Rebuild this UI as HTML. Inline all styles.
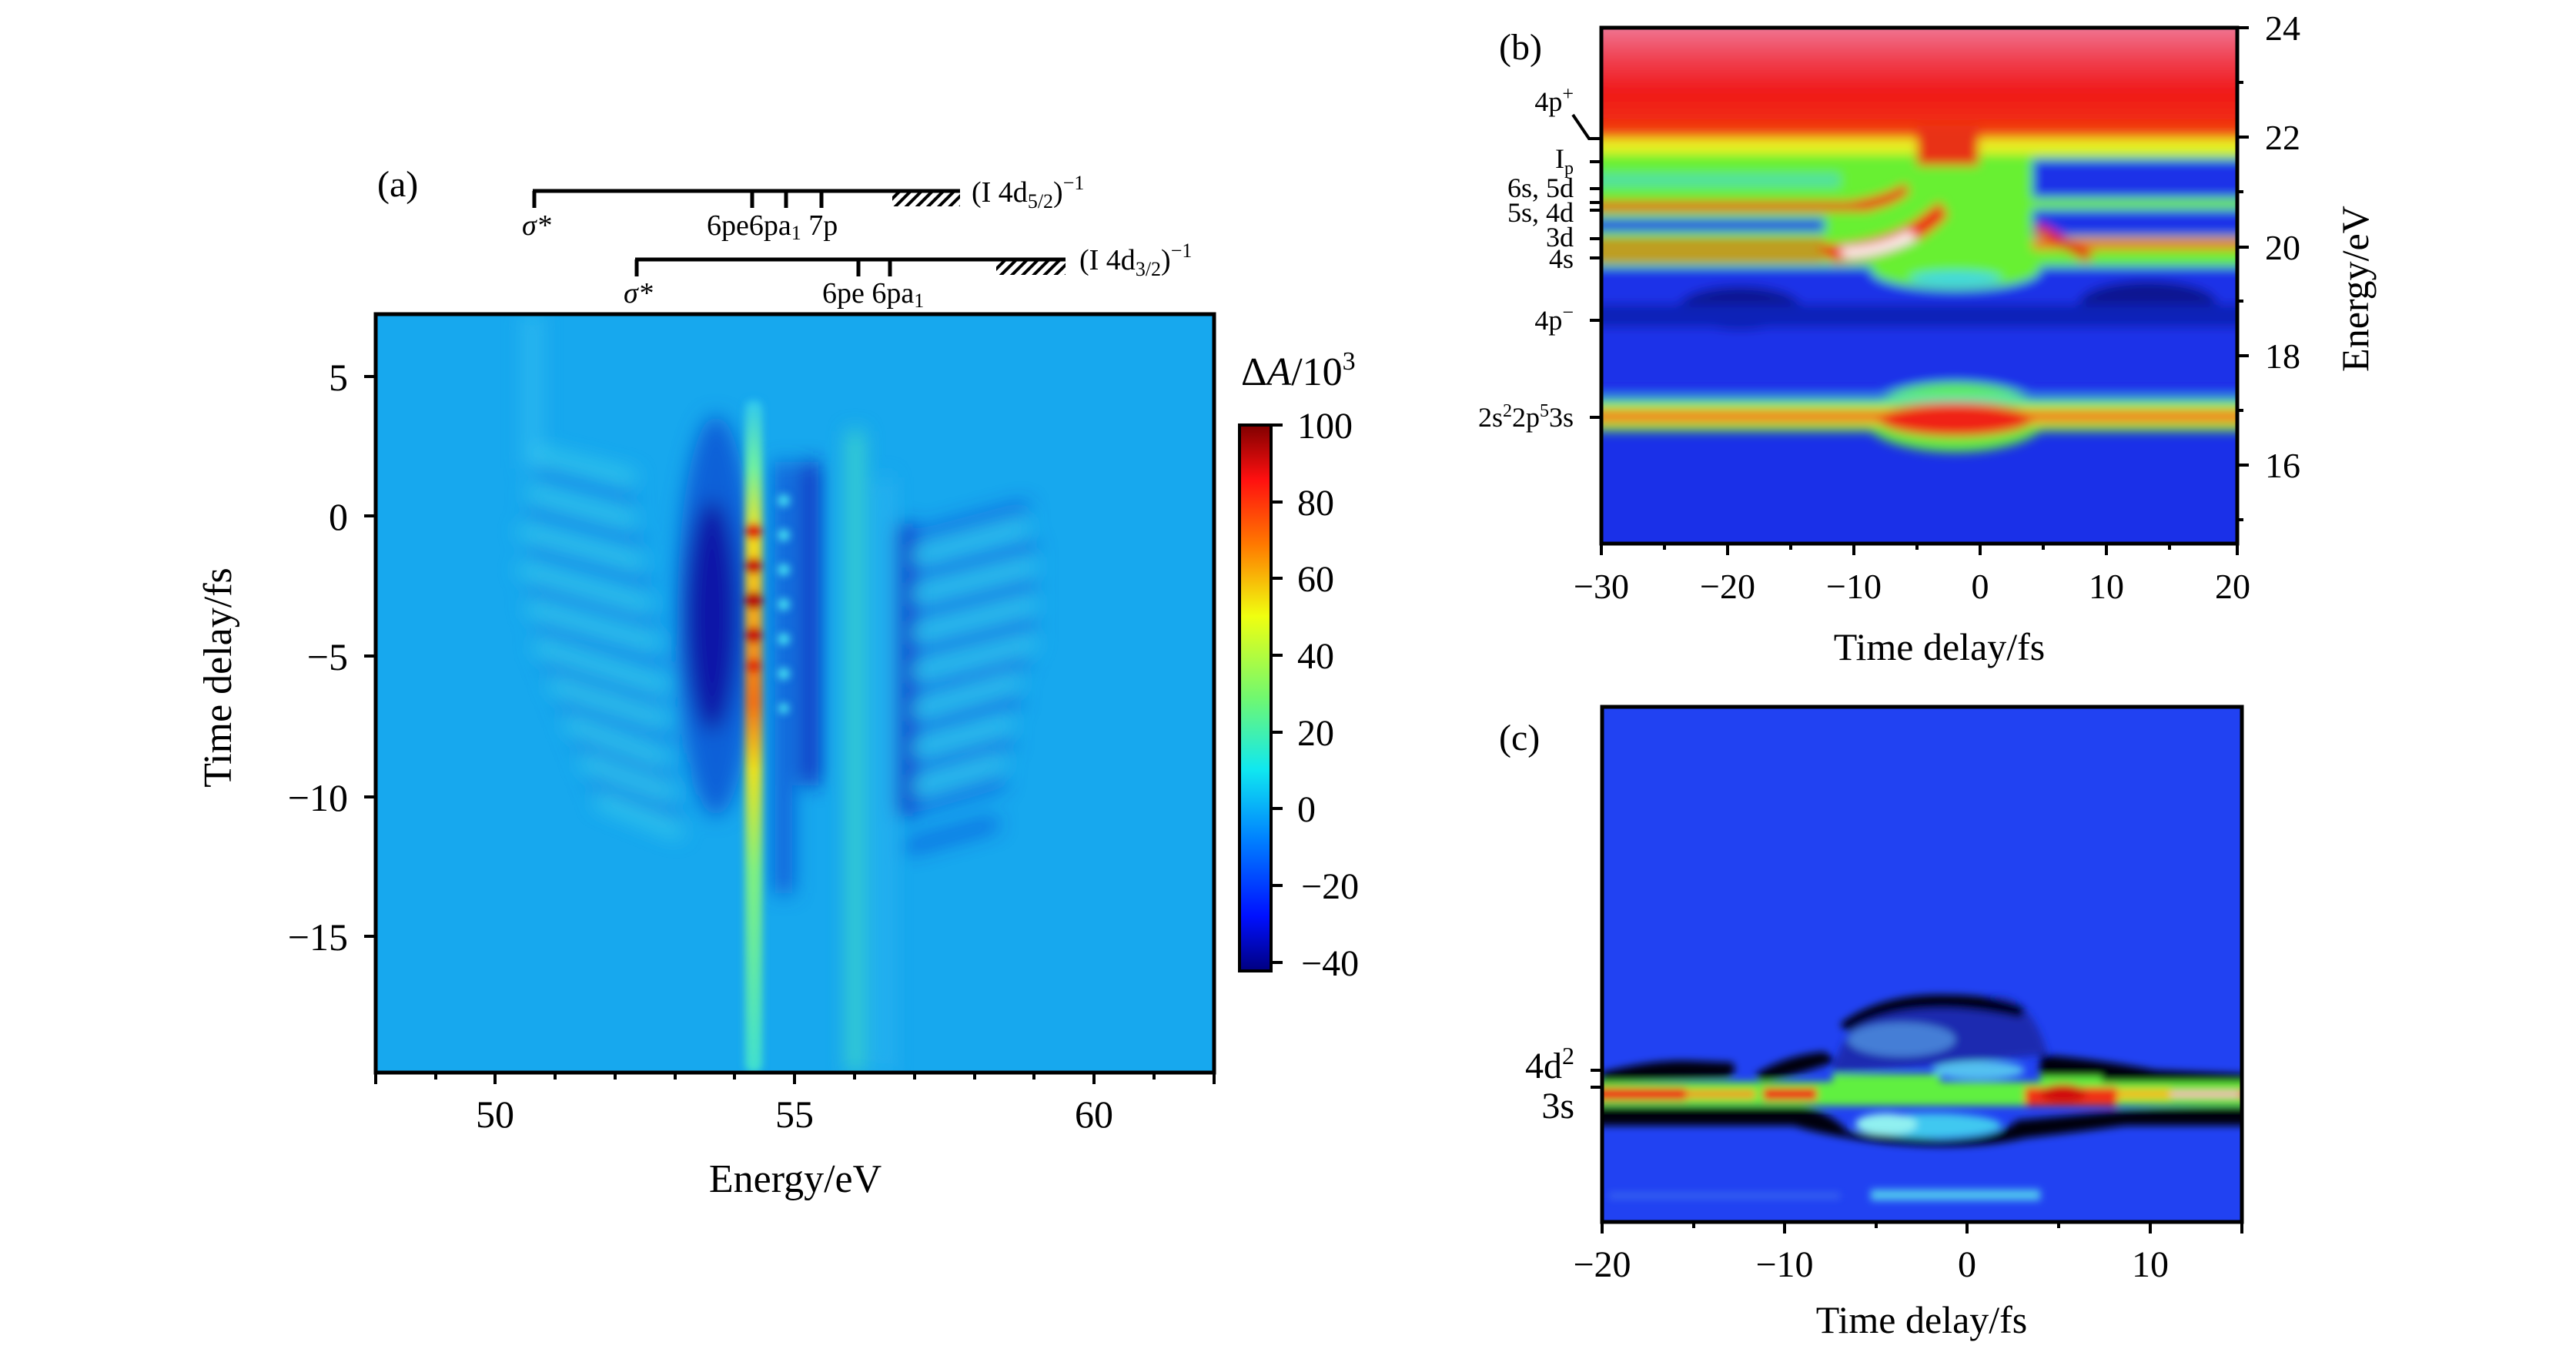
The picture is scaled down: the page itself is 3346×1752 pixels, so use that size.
<!DOCTYPE html>
<html><head><meta charset="utf-8"><style>
html,body{margin:0;padding:0;background:#fff}
svg{display:block}
text{font-family:"Liberation Serif",serif;fill:#000}
</style></head><body>
<svg width="3346" height="1752" viewBox="0 0 3346 1752" xmlns="http://www.w3.org/2000/svg">
<defs>
<filter id="b5" x="-20%" y="-20%" width="140%" height="140%"><feGaussianBlur stdDeviation="5"/></filter>
<filter id="b7" x="-20%" y="-20%" width="140%" height="140%"><feGaussianBlur stdDeviation="7"/></filter>
<filter id="b9" x="-30%" y="-30%" width="160%" height="160%"><feGaussianBlur stdDeviation="13"/></filter>
<filter id="b3" x="-20%" y="-20%" width="140%" height="140%"><feGaussianBlur stdDeviation="3"/></filter>
<clipPath id="ca"><rect x="488" y="408" width="1089" height="985"/></clipPath>
<clipPath id="cb"><rect x="2080" y="36" width="826" height="670"/></clipPath>
<clipPath id="cc"><rect x="2081" y="918" width="831" height="669"/></clipPath>
<linearGradient id="jet" x1="0" y1="0" x2="0" y2="1">
<stop offset="0" stop-color="#800000"/><stop offset="0.1" stop-color="#ff1010"/>
<stop offset="0.22" stop-color="#ff7a00"/><stop offset="0.35" stop-color="#f0ff10"/>
<stop offset="0.5" stop-color="#70f870"/><stop offset="0.63" stop-color="#10e8f0"/>
<stop offset="0.76" stop-color="#0080ff"/><stop offset="0.9" stop-color="#0010ff"/>
<stop offset="1" stop-color="#000080"/></linearGradient>
<linearGradient id="mainl" x1="0" y1="0" x2="0" y2="1">
<stop offset="0" stop-color="#30c8f0"/><stop offset="0.1" stop-color="#70f0a0"/>
<stop offset="0.2" stop-color="#f0e020"/><stop offset="0.45" stop-color="#f07018"/>
<stop offset="0.55" stop-color="#e8e020"/><stop offset="0.7" stop-color="#80f080"/>
<stop offset="1" stop-color="#40e0d0"/></linearGradient>
<linearGradient id="btop" x1="0" y1="0" x2="0" y2="1">
<stop offset="0" stop-color="#f080a0"/><stop offset="0.3" stop-color="#f04050"/>
<stop offset="0.55" stop-color="#f01818"/><stop offset="0.8" stop-color="#f03010"/>
<stop offset="1" stop-color="#f09018"/></linearGradient>
<pattern id="hatch" width="10" height="10" patternUnits="userSpaceOnUse" patternTransform="rotate(45)"><rect width="4" height="10" fill="#000"/></pattern>
</defs>

<!-- ===== Panel (a) ===== -->
<text x="490" y="255" font-size="48">(a)</text>
<g stroke="#000" stroke-width="5" fill="none">
<line x1="692" y1="248" x2="1247" y2="248"/>
<line x1="694" y1="248" x2="694" y2="270"/>
<line x1="977" y1="248" x2="977" y2="270"/><line x1="1021" y1="248" x2="1021" y2="270"/><line x1="1067" y1="248" x2="1067" y2="270"/>
<line x1="825" y1="337" x2="1384" y2="337"/>
<line x1="827" y1="337" x2="827" y2="359"/>
<line x1="1115" y1="337" x2="1115" y2="359"/><line x1="1156" y1="337" x2="1156" y2="359"/>
</g>
<rect x="1159" y="250" width="88" height="18" fill="url(#hatch)"/>
<rect x="1294" y="339" width="90" height="18" fill="url(#hatch)"/>
<g font-size="38">
<text x="678" y="305" font-style="italic">σ*</text>
<text x="918" y="305">6pe6pa<tspan font-size="26" dy="6">1</tspan><tspan dy="-6"> 7p</tspan></text>
<text x="1262" y="262">(I 4d<tspan font-size="26" dy="8">5/2</tspan><tspan dy="-8">)</tspan><tspan font-size="26" dy="-16">−1</tspan></text>
<text x="810" y="393" font-style="italic">σ*</text>
<text x="1068" y="393">6pe 6pa<tspan font-size="26" dy="6">1</tspan></text>
<text x="1402" y="350">(I 4d<tspan font-size="26" dy="8">3/2</tspan><tspan dy="-8">)</tspan><tspan font-size="26" dy="-16">−1</tspan></text>
</g>

<g clip-path="url(#ca)">
<rect x="488" y="408" width="1089" height="985" fill="#17a8ee"/>
<g filter="url(#b9)">
<rect x="680" y="408" width="22" height="200" fill="#3cc4f2" opacity="0.6"/>
<g stroke-width="14" stroke-linecap="round" fill="none" opacity="0.75">
<g stroke="#45dce8">
<line x1="700" y1="590" x2="820" y2="620"/><line x1="690" y1="640" x2="820" y2="675"/>
<line x1="680" y1="690" x2="830" y2="730"/><line x1="680" y1="740" x2="840" y2="785"/>
<line x1="690" y1="790" x2="850" y2="835"/><line x1="700" y1="840" x2="860" y2="890"/>
<line x1="720" y1="890" x2="860" y2="935"/><line x1="740" y1="940" x2="860" y2="985"/>
<line x1="760" y1="990" x2="870" y2="1030"/><line x1="780" y1="1040" x2="880" y2="1080"/>
</g>
<g stroke="#0c6ce0">
<line x1="700" y1="615" x2="820" y2="648"/><line x1="690" y1="665" x2="830" y2="703"/>
<line x1="690" y1="715" x2="840" y2="757"/><line x1="690" y1="765" x2="850" y2="810"/>
<line x1="700" y1="815" x2="860" y2="862"/><line x1="710" y1="865" x2="860" y2="912"/>
<line x1="730" y1="915" x2="870" y2="960"/><line x1="750" y1="965" x2="870" y2="1008"/>
<line x1="770" y1="1015" x2="880" y2="1055"/>
</g>
<g stroke="#0a3ed8">
<line x1="1180" y1="700" x2="1330" y2="660"/><line x1="1180" y1="750" x2="1340" y2="710"/>
<line x1="1180" y1="800" x2="1340" y2="760"/><line x1="1180" y1="850" x2="1340" y2="810"/>
<line x1="1180" y1="900" x2="1330" y2="860"/><line x1="1180" y1="950" x2="1320" y2="910"/>
<line x1="1180" y1="1000" x2="1310" y2="965"/><line x1="1180" y1="1050" x2="1300" y2="1015"/>
<line x1="1180" y1="1100" x2="1290" y2="1070"/>
</g>
<g stroke="#45d8ec">
<line x1="1180" y1="725" x2="1330" y2="685"/><line x1="1180" y1="775" x2="1340" y2="735"/>
<line x1="1180" y1="825" x2="1340" y2="785"/><line x1="1180" y1="875" x2="1340" y2="835"/>
<line x1="1180" y1="925" x2="1320" y2="885"/><line x1="1180" y1="975" x2="1310" y2="940"/>
<line x1="1180" y1="1025" x2="1300" y2="990"/>
</g>
</g>
<ellipse cx="930" cy="800" rx="50" ry="260" fill="#1060d8"/>
<ellipse cx="925" cy="800" rx="34" ry="150" fill="#0a14a8"/>
<rect x="1006" y="600" width="24" height="560" fill="#1058d8"/>
<rect x="1040" y="600" width="24" height="420" fill="#0a28c0"/>
<rect x="1102" y="560" width="18" height="833" fill="#42dcc4"/>
<rect x="1142" y="620" width="14" height="773" fill="#30b8f0"/>
<rect x="1166" y="680" width="20" height="380" fill="#0a30c8"/>
</g>
<g filter="url(#b5)">
<rect x="968" y="520" width="22" height="873" rx="10" fill="url(#mainl)"/>
<circle cx="979" cy="690" r="11" fill="#e02010"/><circle cx="979" cy="735" r="11" fill="#c81008"/>
<circle cx="979" cy="780" r="12" fill="#b80808"/><circle cx="979" cy="825" r="11" fill="#c81008"/>
<circle cx="979" cy="865" r="10" fill="#e03010"/>
<g fill="#40d8f0">
<circle cx="1018" cy="650" r="8"/><circle cx="1018" cy="695" r="8"/><circle cx="1018" cy="740" r="8"/>
<circle cx="1018" cy="785" r="8"/><circle cx="1018" cy="830" r="8"/><circle cx="1018" cy="875" r="8"/>
<circle cx="1018" cy="920" r="7"/>
</g>
</g>
</g>
<rect x="488" y="408" width="1089" height="985" fill="none" stroke="#000" stroke-width="5"/>
<g stroke="#000" stroke-width="4">
<line x1="488" y1="1393" x2="488" y2="1408"/><line x1="566" y1="1393" x2="566" y2="1402"/>
<line x1="643" y1="1393" x2="643" y2="1408"/><line x1="721" y1="1393" x2="721" y2="1402"/>
<line x1="799" y1="1393" x2="799" y2="1402"/><line x1="877" y1="1393" x2="877" y2="1402"/>
<line x1="954" y1="1393" x2="954" y2="1402"/><line x1="1032" y1="1393" x2="1032" y2="1408"/>
<line x1="1110" y1="1393" x2="1110" y2="1402"/><line x1="1188" y1="1393" x2="1188" y2="1402"/>
<line x1="1266" y1="1393" x2="1266" y2="1402"/><line x1="1343" y1="1393" x2="1343" y2="1402"/>
<line x1="1421" y1="1393" x2="1421" y2="1408"/><line x1="1499" y1="1393" x2="1499" y2="1402"/>
<line x1="1577" y1="1393" x2="1577" y2="1408"/>
<line x1="473" y1="489" x2="488" y2="489"/><line x1="473" y1="670" x2="488" y2="670"/>
<line x1="473" y1="852" x2="488" y2="852"/><line x1="473" y1="1035" x2="488" y2="1035"/>
<line x1="473" y1="1216" x2="488" y2="1216"/>
</g>
<g font-size="50" text-anchor="middle">
<text x="643" y="1464">50</text><text x="1032" y="1464">55</text><text x="1421" y="1464">60</text>
<text x="1033" y="1548" font-size="52">Energy/eV</text>
</g>
<g font-size="50" text-anchor="end">
<text x="452" y="507">5</text><text x="452" y="688">0</text>
<text x="452" y="870">−5</text><text x="452" y="1053">−10</text><text x="452" y="1234">−15</text>
</g>
<text transform="translate(300,880) rotate(-90)" font-size="52" text-anchor="middle">Time delay/fs</text>

<text x="1612" y="500" font-size="52"><tspan>Δ</tspan><tspan font-style="italic">A</tspan>/10<tspan font-size="34" dy="-20">3</tspan></text>
<rect x="1610" y="552" width="41" height="709" fill="url(#jet)" stroke="#000" stroke-width="4"/>
<g stroke="#000" stroke-width="4">
<line x1="1651" y1="552" x2="1666" y2="552"/><line x1="1651" y1="652" x2="1666" y2="652"/>
<line x1="1651" y1="751" x2="1666" y2="751"/><line x1="1651" y1="851" x2="1666" y2="851"/>
<line x1="1651" y1="951" x2="1666" y2="951"/><line x1="1651" y1="1050" x2="1666" y2="1050"/>
<line x1="1651" y1="1150" x2="1666" y2="1150"/><line x1="1651" y1="1250" x2="1666" y2="1250"/>
</g>
<g font-size="48">
<text x="1685" y="569">100</text><text x="1685" y="669">80</text><text x="1685" y="768">60</text>
<text x="1685" y="868">40</text><text x="1685" y="968">20</text><text x="1685" y="1067">0</text>
<text x="1690" y="1167">−20</text><text x="1690" y="1267">−40</text>
</g>

<!-- ===== Panel (b) ===== -->
<text x="1947" y="77" font-size="48">(b)</text>
<g clip-path="url(#cb)">
<rect x="2080" y="36" width="826" height="670" fill="#1a30e8"/>
<g filter="url(#b7)">
<rect x="2070" y="26" width="850" height="170" fill="url(#btop)"/>
<rect x="2070" y="180" width="850" height="25" fill="#e8f020"/>
<rect x="2070" y="200" width="850" height="146" fill="#68f030"/>
<rect x="2070" y="225" width="320" height="18" fill="#50e0a0"/>
<rect x="2640" y="207" width="280" height="50" fill="#1a30e8"/>
<rect x="2640" y="272" width="280" height="35" fill="#1a30e8"/>
<rect x="2640" y="257" width="280" height="14" fill="#70f040"/>
<rect x="2640" y="310" width="280" height="14" fill="#f07020"/>
<rect x="2070" y="262" width="360" height="12" fill="#f01818"/>
<path d="M2400,262 Q2450,255 2475,238 L2480,250 Q2450,275 2400,274 Z" fill="#f01818"/>
<rect x="2070" y="284" width="300" height="17" fill="#1a30e8"/>
<rect x="2070" y="312" width="300" height="10" fill="#e02010"/>
<rect x="2070" y="328" width="300" height="10" fill="#e02010"/>
<path d="M2360,318 Q2440,318 2490,285 L2520,262 L2530,280 Q2480,335 2380,340 Z" fill="#f01818"/>
<path d="M2390,322 Q2440,322 2480,300 L2490,310 Q2440,334 2395,334 Z" fill="#ffffff"/>
<rect x="2490" y="165" width="80" height="50" fill="#e83018"/>
<path d="M2650,290 L2720,330 L2710,340 L2640,300 Z" fill="#e02010"/>
<rect x="2070" y="346" width="850" height="160" fill="#1a30e8"/>
<ellipse cx="2540" cy="350" rx="110" ry="26" fill="#68f030"/>
<ellipse cx="2540" cy="362" rx="60" ry="10" fill="#40d8e0"/>
<ellipse cx="2260" cy="400" rx="80" ry="28" fill="#0c1590"/>
<ellipse cx="2790" cy="395" rx="90" ry="30" fill="#0c1590"/>
<rect x="2070" y="395" width="850" height="30" fill="#1020b8"/>
<rect x="2070" y="520" width="850" height="40" fill="#60f040"/>
<ellipse cx="2540" cy="542" rx="120" ry="45" fill="#60f040"/>
<rect x="2070" y="530" width="850" height="22" fill="#f0d020"/>
<rect x="2070" y="536" width="850" height="10" fill="#f03020"/>
<ellipse cx="2540" cy="545" rx="100" ry="22" fill="#f02018"/>
<rect x="2070" y="515" width="850" height="6" fill="#50d8e0"/>
</g>
</g>
<rect x="2080" y="36" width="826" height="670" fill="none" stroke="#000" stroke-width="5"/>
<g stroke="#000" stroke-width="4">
<line x1="2080" y1="706" x2="2080" y2="721"/><line x1="2162" y1="706" x2="2162" y2="714"/>
<line x1="2244" y1="706" x2="2244" y2="721"/><line x1="2326" y1="706" x2="2326" y2="714"/>
<line x1="2408" y1="706" x2="2408" y2="721"/><line x1="2490" y1="706" x2="2490" y2="714"/>
<line x1="2572" y1="706" x2="2572" y2="721"/><line x1="2654" y1="706" x2="2654" y2="714"/>
<line x1="2736" y1="706" x2="2736" y2="721"/><line x1="2818" y1="706" x2="2818" y2="714"/>
<line x1="2906" y1="706" x2="2906" y2="721"/>
<line x1="2906" y1="36" x2="2921" y2="36"/><line x1="2906" y1="107" x2="2914" y2="107"/>
<line x1="2906" y1="178" x2="2921" y2="178"/><line x1="2906" y1="249" x2="2914" y2="249"/>
<line x1="2906" y1="321" x2="2921" y2="321"/><line x1="2906" y1="391" x2="2914" y2="391"/>
<line x1="2906" y1="462" x2="2921" y2="462"/><line x1="2906" y1="533" x2="2914" y2="533"/>
<line x1="2906" y1="604" x2="2921" y2="604"/><line x1="2906" y1="675" x2="2914" y2="675"/>
<polyline points="2043,149 2064,180 2080,180" fill="none"/>
<line x1="2065" y1="210" x2="2080" y2="210"/><line x1="2065" y1="245" x2="2080" y2="245"/>
<line x1="2065" y1="263" x2="2080" y2="263"/><line x1="2065" y1="273" x2="2080" y2="273"/>
<line x1="2065" y1="310" x2="2080" y2="310"/><line x1="2065" y1="335" x2="2080" y2="335"/>
<line x1="2065" y1="416" x2="2080" y2="416"/><line x1="2065" y1="542" x2="2080" y2="542"/>
</g>
<g font-size="46" text-anchor="middle">
<text x="2080" y="777">−30</text><text x="2244" y="777">−20</text><text x="2408" y="777">−10</text>
<text x="2572" y="777">0</text><text x="2736" y="777">10</text><text x="2900" y="777">20</text>
<text x="2519" y="857" font-size="50">Time delay/fs</text>
</g>
<g font-size="46">
<text x="2942" y="52">24</text><text x="2942" y="194">22</text><text x="2942" y="337">20</text>
<text x="2942" y="478">18</text><text x="2942" y="620">16</text>
</g>
<text transform="translate(3076,375) rotate(-90)" font-size="50" text-anchor="middle">Energy/eV</text>
<g font-size="36" text-anchor="end">
<text x="2044" y="144">4p<tspan font-size="26" dy="-14">+</tspan></text>
<text x="2044" y="218">I<tspan font-size="24" dy="8">p</tspan></text>
<text x="2044" y="256">6s, 5d</text>
<text x="2044" y="288">5s, 4d</text>
<text x="2044" y="320">3d</text>
<text x="2044" y="348">4s</text>
<text x="2044" y="428">4p<tspan font-size="26" dy="-14">−</tspan></text>
<text x="2044" y="554">2s<tspan font-size="24" dy="-13">2</tspan><tspan dy="13">2p</tspan><tspan font-size="24" dy="-13">5</tspan><tspan dy="13">3s</tspan></text>
</g>

<!-- ===== Panel (c) ===== -->
<text x="1947" y="974" font-size="48">(c)</text>
<g clip-path="url(#cc)">
<rect x="2081" y="918" width="831" height="669" fill="#2142f2"/>
<g filter="url(#b5)">
<path d="M2380,1395 Q2400,1300 2500,1295 L2600,1295 Q2640,1300 2660,1370 L2380,1395 Z" fill="#1a2ab0"/>
<path d="M2390,1330 Q2440,1292 2520,1292 Q2600,1292 2630,1310 L2625,1322 Q2560,1308 2510,1310 Q2440,1312 2400,1340 Z" fill="#000010"/>
<ellipse cx="2470" cy="1350" rx="70" ry="22" fill="#60b8f0" opacity="0.6"/>
<ellipse cx="2570" cy="1390" rx="60" ry="12" fill="#60e0f0" opacity="0.8"/>
<path d="M2080,1393 Q2150,1375 2200,1378 L2250,1380 Q2260,1395 2240,1400 L2080,1405 Z" fill="#000010"/>
<path d="M2280,1395 Q2320,1370 2370,1366 L2385,1378 Q2340,1395 2290,1405 Z" fill="#000010"/>
<path d="M2650,1370 Q2720,1375 2800,1390 L2920,1395 L2920,1410 L2650,1405 Z" fill="#000010"/>
<rect x="2070" y="1405" width="860" height="31" fill="#60f040"/>
<rect x="2380" y="1395" width="140" height="15" fill="#60f040"/>
<rect x="2650" y="1398" width="80" height="12" fill="#60f040"/>
<rect x="2070" y="1413" width="120" height="16" fill="#f01818"/>
<rect x="2190" y="1415" width="90" height="12" fill="#f0a020"/>
<rect x="2290" y="1413" width="70" height="16" fill="#f01818"/>
<rect x="2630" y="1412" width="120" height="24" fill="#f03018"/>
<ellipse cx="2680" cy="1420" rx="30" ry="12" fill="#d00808"/>
<rect x="2750" y="1414" width="70" height="14" fill="#f0c020"/>
<rect x="2820" y="1416" width="100" height="10" fill="#f02010"/>
<rect x="2820" y="1419" width="90" height="4" fill="#ffffff"/>
<path d="M2070,1437 L2340,1437 Q2380,1445 2400,1470 L2520,1480 Q2600,1478 2620,1455 L2730,1445 Q2800,1438 2930,1437 L2930,1462 L2760,1462 Q2700,1470 2630,1478 Q2560,1495 2450,1485 Q2370,1475 2330,1462 L2070,1462 Z" fill="#000010"/>
<ellipse cx="2510" cy="1462" rx="90" ry="16" fill="#40c8f0"/>
<ellipse cx="2450" cy="1460" rx="40" ry="14" fill="#90f0f0"/>
<rect x="2430" y="1545" width="220" height="14" fill="#50c8f0"/>
<rect x="2090" y="1549" width="300" height="8" fill="#4070f0" opacity="0.7"/>
</g>
</g>
<rect x="2081" y="918" width="831" height="669" fill="none" stroke="#000" stroke-width="5"/>
<g stroke="#000" stroke-width="4">
<line x1="2081" y1="1587" x2="2081" y2="1602"/><line x1="2200" y1="1587" x2="2200" y2="1595"/>
<line x1="2318" y1="1587" x2="2318" y2="1602"/><line x1="2437" y1="1587" x2="2437" y2="1595"/>
<line x1="2555" y1="1587" x2="2555" y2="1602"/><line x1="2674" y1="1587" x2="2674" y2="1595"/>
<line x1="2793" y1="1587" x2="2793" y2="1602"/><line x1="2912" y1="1587" x2="2912" y2="1602"/>
<line x1="2066" y1="1390" x2="2081" y2="1390"/><line x1="2066" y1="1412" x2="2081" y2="1412"/>
</g>
<g font-size="48" text-anchor="middle">
<text x="2081" y="1658">−20</text><text x="2318" y="1658">−10</text>
<text x="2555" y="1658">0</text><text x="2793" y="1658">10</text>
<text x="2496" y="1731" font-size="50">Time delay/fs</text>
</g>
<g font-size="48" text-anchor="end">
<text x="2045" y="1400">4d<tspan font-size="32" dy="-18">2</tspan></text>
<text x="2045" y="1452">3s</text>
</g>
</svg>
</body></html>
